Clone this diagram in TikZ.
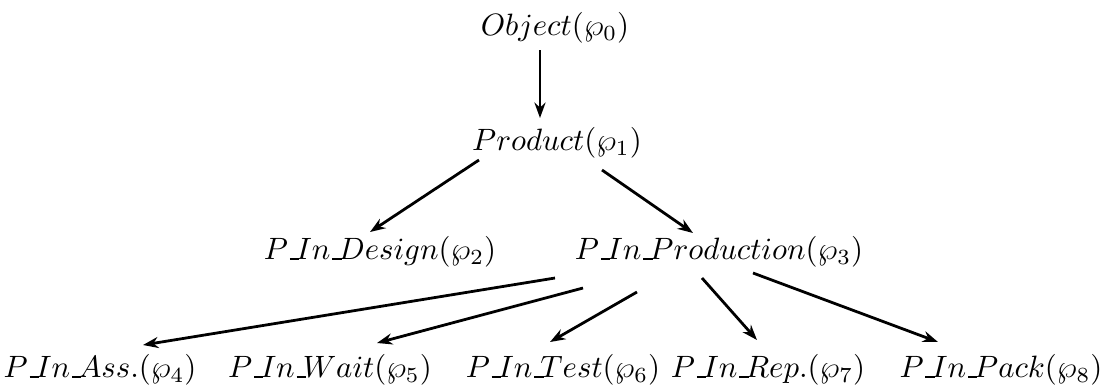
\documentclass[tikz,border=0pt]{standalone}
\usepackage{amsmath,amssymb}
\usetikzlibrary{arrows.meta,calc}
% short low bar as in the old \_
\newcommand{\usc}{\kern.06em\vbox{\hrule width .3em height .6pt}\kern-.1em}

\begin{document}
\begin{tikzpicture}[
  x=0.324pt, y=-0.324pt,
  lbl/.style={inner sep=0pt, font=\normalsize},
  arr/.style={-{Stealth[length=5pt,width=3.6pt]}, line width=0.9pt}
]
\useasboundingbox (0,0) rectangle (1112,389);

\node[lbl] (obj) at (555,28) {$Object(\wp_0)$};

\node[lbl] (prod) at (557,143) {$Product(\wp_1)$};

\node[lbl] (des) at (380,252) {$P\usc In\usc Design(\wp_2)$};
\node[lbl] (prodn) at (719,252) {$P\usc In\usc Production(\wp_3)$};

\node[lbl] (ass) at (100,370) {$P\usc In\usc Ass.(\wp_4)$};
\node[lbl] (wait) at (330,370) {$P\usc In\usc Wait(\wp_5)$};
\node[lbl] (test) at (563,370) {$P\usc In\usc Test(\wp_6)$};
\node[lbl] (rep) at (768,370) {$P\usc In\usc Rep.(\wp_7)$};
\node[lbl] (pack) at (1001,370) {$P\usc In\usc Pack(\wp_8)$};

\draw[arr] ($(obj)+(-15,22)$) -- ($(prod)+(-17,-25)$);

\draw[arr] ($(prod)+(-78,17)$) -- ($(des)+(-10,-20)$);
\draw[arr] ($(prod)+(45,27)$) -- ($(prodn)+(-26,-19)$);

\draw[arr] ($(prodn)+(-164,26)$) -- ($(ass)+(43,-25)$);
\draw[arr] ($(prodn)+(-136,36)$) -- ($(wait)+(47,-27)$);
\draw[arr] ($(prodn)+(-82,40)$) -- ($(test)+(-13,-28)$);
\draw[arr] ($(prodn)+(-17,26)$) -- ($(rep)+(-11,-30)$);
\draw[arr] ($(prodn)+(34,21)$) -- ($(pack)+(-63,-28)$);
\end{tikzpicture}
\end{document}
